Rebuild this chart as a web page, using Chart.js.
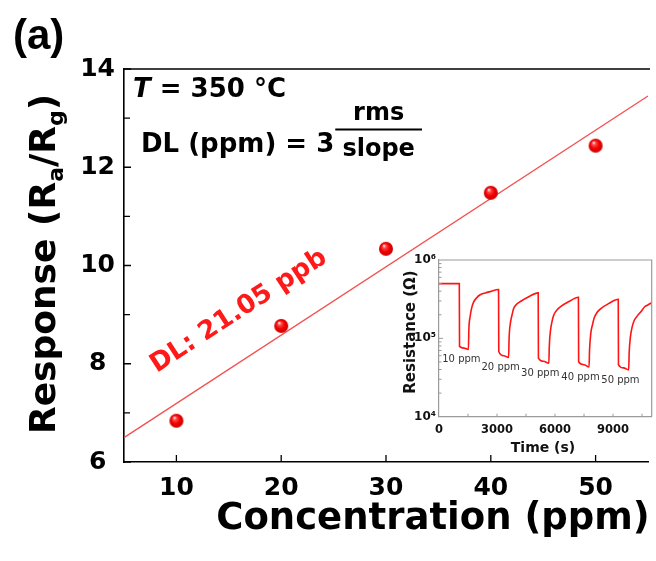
<!DOCTYPE html>
<html>
<head>
<meta charset="utf-8">
<script src="https://cdn.jsdelivr.net/npm/chart.js@4.4.1/dist/chart.umd.min.js"></script>
<style>
  html, body { margin: 0; padding: 0; background: #fff; }
  #wrap { position: relative; width: 656px; height: 561px; overflow: hidden; }
  #main { position: absolute; left: 0; top: 0; }
  #inset { position: absolute; left: 395px; top: 248px; }
</style>
</head>
<body>
<div id="wrap">
  <canvas id="main" width="656" height="561"></canvas>
  <canvas id="inset" width="261" height="215"></canvas>
</div>
<script>
// ---- Sensor response (Ra/Rg) versus gas concentration at 350 °C ----
const concentration = [10, 20, 30, 40, 50];            // ppm
const response      = [6.84, 8.77, 10.34, 11.48, 12.44]; // Ra/Rg
const xTickValues   = [10, 20, 30, 40, 50];
const yTickValues   = [6, 8, 10, 12, 14];
const yMinorValues  = [7, 9, 11, 13];
const xRange = [5, 55];
const yRange = [6, 14];
const detectionLimitLabel = 'DL: 21.05 ppb';

// ---- Inset: resistance transient during successive gas pulses ----
const time = [
  0, 1050, 1062, 1300, 1520, 1545, 1610, 1700, 1790, 1950, 2130, 2400, 2650, 3080,
  3092, 3350, 3600, 3625, 3690, 3780, 3860, 4000, 4210, 4640, 5130,
  5142, 5400, 5680, 5705, 5770, 5860, 5940, 6100, 6290, 6720, 7210,
  7222, 7500, 7760, 7785, 7850, 7940, 8020, 8180, 8370, 8800, 9270,
  9282, 9550, 9810, 9835, 9900, 9990, 10100, 10270, 10450, 10650, 10800, 11000
]; // s
const resistance = [
  5.0e5, 5.0e5, 7.9e4, 7.5e4, 7.2e4, 1.3e5, 1.9e5, 2.5e5, 2.9e5, 3.3e5, 3.6e5, 3.8e5, 3.95e5, 4.2e5,
  6.8e4, 6.0e4, 5.7e4, 1.0e5, 1.55e5, 2.0e5, 2.4e5, 2.7e5, 2.95e5, 3.4e5, 3.8e5,
  5.6e4, 5.1e4, 4.8e4, 8.0e4, 1.28e5, 1.7e5, 2.0e5, 2.3e5, 2.54e5, 2.95e5, 3.35e5,
  5.0e4, 4.6e4, 4.3e4, 7.0e4, 1.16e5, 1.5e5, 1.8e5, 2.15e5, 2.4e5, 2.8e5, 3.15e5,
  4.6e4, 4.2e4, 3.95e4, 6.5e4, 1.05e5, 1.4e5, 1.7e5, 1.95e5, 2.2e5, 2.55e5, 2.67e5, 2.85e5
]; // ohm
const pulseOn     = [1056, 3085, 5135, 7215, 9280];
const pulseOff    = [1524, 3600, 5685, 7765, 9810];
const pulseLabels = ['10 ppm', '20 ppm', '30 ppm', '40 ppm', '50 ppm'];
const timeTicks   = [0, 3000, 6000, 9000];
const resTicks    = [1e4, 1e5, 1e6];
const timeRange   = [0, 11000];

const FONT = "'DejaVu Sans', sans-serif";

// least-squares line through the response points
function linearFit(xs, ys) {
  const n = xs.length;
  const mx = xs.reduce((a, b) => a + b, 0) / n;
  const my = ys.reduce((a, b) => a + b, 0) / n;
  let sxy = 0, sxx = 0;
  for (let i = 0; i < n; i++) { sxy += (xs[i] - mx) * (ys[i] - my); sxx += (xs[i] - mx) ** 2; }
  const slope = sxy / sxx;
  return { slope, intercept: my - slope * mx };
}
const fit = linearFit(concentration, response);
const fitAt = x => fit.intercept + fit.slope * x;

// glossy red ball used as the marker
function makeSphere(r) {
  const d = 2 * r + 2;
  const c = document.createElement('canvas');
  c.width = c.height = d;
  const g = c.getContext('2d');
  const cx = d / 2;
  const grad = g.createRadialGradient(cx - r * 0.3, cx - r * 0.45, r * 0.05, cx, cx, r);
  grad.addColorStop(0, '#fff0f0');
  grad.addColorStop(0.22, '#ff4a4a');
  grad.addColorStop(0.6, '#f40000');
  grad.addColorStop(1, '#c80000');
  g.fillStyle = grad;
  g.beginPath(); g.arc(cx, cx, r, 0, Math.PI * 2); g.fill();
  return c;
}

// draw a run of text pieces with individual sizes / offsets, centred on x
function drawRuns(ctx, runs, x, y) {
  let total = 0;
  runs.forEach(r => { ctx.font = r.font; r.w = ctx.measureText(r.text).width; total += r.w; });
  let cx = x - total / 2;
  ctx.textAlign = 'left';
  runs.forEach(r => { ctx.font = r.font; ctx.fillText(r.text, cx, y + (r.dy || 0)); cx += r.w; });
}

const mainDecor = {
  id: 'mainDecor',
  afterDraw(chart) {
    const { ctx, chartArea: ca, scales: { x, y } } = chart;
    ctx.save();
    // frame top
    ctx.strokeStyle = '#000';
    ctx.lineWidth = 1.6;
    ctx.beginPath(); ctx.moveTo(ca.left, ca.top); ctx.lineTo(ca.right + 2, ca.top); ctx.stroke();
    // inward ticks
    ctx.lineWidth = 1.3;
    ctx.beginPath();
    yTickValues.forEach(v => { const p = y.getPixelForValue(v); ctx.moveTo(ca.left, p); ctx.lineTo(ca.left + 7, p); });
    yMinorValues.forEach(v => { const p = y.getPixelForValue(v); ctx.moveTo(ca.left, p); ctx.lineTo(ca.left + 6, p); });
    xTickValues.forEach(v => { const p = x.getPixelForValue(v); ctx.moveTo(p, ca.bottom); ctx.lineTo(p, ca.bottom - 7); });
    ctx.stroke();

    ctx.fillStyle = '#000';
    ctx.textBaseline = 'alphabetic';
    // panel letter
    ctx.font = "bold 42px 'Liberation Sans', Arial, sans-serif";
    ctx.textAlign = 'left';
    ctx.fillText('(a)', 13, 48.5);

    // axis titles
    ctx.textAlign = 'center';
    ctx.font = `bold 37px ${FONT}`;
    ctx.fillText('Concentration (ppm)', 433, 529);

    ctx.save();
    ctx.translate(55, 264);
    ctx.rotate(-Math.PI / 2);
    const big = `bold 36px ${FONT}`, small = `bold 22px ${FONT}`;
    drawRuns(ctx, [
      { text: 'Response (R', font: big },
      { text: 'a', font: small, dy: 8 },
      { text: '/R', font: big },
      { text: 'g', font: small, dy: 8 },
      { text: ')', font: big }
    ], 0, 0);
    ctx.restore();

    // temperature and detection-limit formula
    ctx.textAlign = 'left';
    ctx.font = `italic bold 26px ${FONT}`;
    ctx.fillText('T', 133, 97);
    const tw = ctx.measureText('T').width;
    ctx.font = `bold 26px ${FONT}`;
    ctx.fillText(' = 350 °C', 133 + tw, 97);

    ctx.fillText('DL (ppm) = 3', 141, 152);
    const dlw = ctx.measureText('DL (ppm) = 3').width;
    const barL = 141 + dlw + 1, barR = 422;
    ctx.fillRect(barL, 128.5, barR - barL, 2);
    ctx.textAlign = 'center';
    ctx.font = `bold 24px ${FONT}`;
    ctx.fillText('rms', (barL + barR) / 2, 120);
    ctx.fillText('slope', (barL + barR) / 2, 156);

    // detection-limit label laid along the fitted line
    const ax = 18.2;
    const p0 = { x: x.getPixelForValue(ax), y: y.getPixelForValue(fitAt(ax)) };
    const p1 = { x: x.getPixelForValue(ax + 10), y: y.getPixelForValue(fitAt(ax + 10)) };
    const ang = Math.atan2(p1.y - p0.y, p1.x - p0.x);
    ctx.save();
    ctx.translate(p0.x, p0.y);
    ctx.rotate(ang);
    ctx.fillStyle = '#ff1a1a';
    ctx.font = `bold 26px ${FONT}`;
    ctx.textAlign = 'center';
    ctx.textBaseline = 'middle';
    ctx.fillText(detectionLimitLabel, 0, -43);
    ctx.restore();
    ctx.restore();
  }
};

const sphere = makeSphere(7);

new Chart(document.getElementById('main'), {
  type: 'scatter',
  data: {
    datasets: [
      {
        label: 'linear fit',
        data: xRange.map(v => ({ x: v, y: fitAt(v) })),
        showLine: true,
        borderColor: '#f25252',
        borderWidth: 1.3,
        pointRadius: 0,
        order: 2
      },
      {
        label: 'response',
        data: concentration.map((c, i) => ({ x: c, y: response[i] })),
        pointStyle: sphere,
        pointRadius: 7,
        order: 1
      }
    ]
  },
  options: {
    responsive: false,
    animation: false,
    events: [],
    layout: { padding: { top: 69, right: 0, left: 0, bottom: 0 } },
    plugins: { legend: { display: false }, tooltip: { enabled: false } },
    scales: {
      x: {
        type: 'linear',
        min: xRange[0], max: xRange[1],
        afterBuildTicks: s => { s.ticks = xTickValues.map(v => ({ value: v })); },
        afterFit: s => { s.height = 99; },
        grid: { drawOnChartArea: false, drawTicks: false },
        border: { display: true, color: '#000', width: 1.6 },
        ticks: { font: { family: FONT, weight: 'bold', size: 25 }, color: '#000', padding: 11, maxRotation: 0, autoSkip: false }
      },
      y: {
        type: 'linear',
        min: yRange[0], max: yRange[1],
        afterBuildTicks: s => { s.ticks = yTickValues.map(v => ({ value: v })); },
        afterFit: s => { s.width = 124; },
        grid: { drawOnChartArea: false, drawTicks: false },
        border: { display: true, color: '#000', width: 1.6 },
        ticks: { font: { family: FONT, weight: 'bold', size: 25 }, color: '#000', padding: 9, crossAlign: 'center', autoSkip: false }
      }
    }
  },
  plugins: [mainDecor]
});

// ---- inset ----
const SUP = { '4': '\u2074', '5': '\u2075', '6': '\u2076' };

const insetDecor = {
  id: 'insetDecor',
  afterDraw(chart) {
    const { ctx, chartArea: ca, scales: { x, y } } = chart;
    ctx.save();
    ctx.strokeStyle = '#9a9a9a';
    ctx.lineWidth = 1.2;
    ctx.beginPath();
    ctx.moveTo(ca.left, ca.top); ctx.lineTo(ca.right, ca.top); ctx.lineTo(ca.right, ca.bottom);
    ctx.stroke();
    // small inward ticks
    ctx.lineWidth = 1;
    ctx.beginPath();
    for (let t = timeRange[0] + 1500; t < timeRange[1]; t += 1500) {
      const p = x.getPixelForValue(t);
      ctx.moveTo(p, ca.bottom); ctx.lineTo(p, ca.bottom - 3);
    }
    for (let e = 4; e < 6; e++) {
      for (let m = 1; m <= 9; m++) {
        if (e === 4 && m === 1) continue;
        const p = y.getPixelForValue(m * Math.pow(10, e));
        ctx.moveTo(ca.left, p); ctx.lineTo(ca.left + (m === 1 ? 4 : 2.5), p);
      }
    }
    ctx.stroke();

    // axis titles
    ctx.fillStyle = '#111';
    ctx.textAlign = 'center';
    ctx.textBaseline = 'alphabetic';
    ctx.font = `bold 14px ${FONT}`;
    ctx.fillText('Time (s)', 148, 204);
    ctx.save();
    ctx.translate(20, 84);
    ctx.rotate(-Math.PI / 2);
    ctx.font = `bold 15px ${FONT}`;
    ctx.fillText('Resistance (\u03A9)', 0, 0);
    ctx.restore();

    // concentration of each pulse, under its dip
    ctx.font = `10px ${FONT}`;
    ctx.fillStyle = '#333';
    ctx.textBaseline = 'middle';
    pulseLabels.forEach((lab, i) => {
      let minR = Infinity;
      time.forEach((t, k) => { if (t >= pulseOn[i] && t <= pulseOff[i] + 30) minR = Math.min(minR, resistance[k]); });
      ctx.fillText(lab, x.getPixelForValue(pulseOn[i]) + 2, y.getPixelForValue(minR) + 10);
    });
    ctx.restore();
  }
};

new Chart(document.getElementById('inset'), {
  type: 'scatter',
  data: {
    datasets: [{
      label: 'resistance',
      data: time.map((t, i) => ({ x: t, y: resistance[i] })),
      showLine: true,
      borderColor: '#ff1414',
      borderWidth: 1.6,
      pointRadius: 0,
      cubicInterpolationMode: 'monotone'
    }]
  },
  options: {
    responsive: false,
    animation: false,
    events: [],
    layout: { padding: { top: 12, right: 4.3, left: 0, bottom: 0 } },
    plugins: { legend: { display: false }, tooltip: { enabled: false } },
    scales: {
      x: {
        type: 'linear',
        min: timeRange[0], max: timeRange[1],
        afterBuildTicks: s => { s.ticks = timeTicks.map(v => ({ value: v })); },
        afterFit: s => { s.height = 46.3; },
        grid: { drawOnChartArea: false, drawTicks: false },
        border: { display: true, color: '#9a9a9a', width: 1.2 },
        ticks: {
          font: { family: FONT, weight: 'bold', size: 11.5 }, color: '#111', padding: 6, maxRotation: 0, autoSkip: false,
          callback: v => String(v)
        }
      },
      y: {
        type: 'logarithmic',
        min: resTicks[0], max: resTicks[resTicks.length - 1],
        afterBuildTicks: s => { s.ticks = resTicks.map(v => ({ value: v })); },
        afterFit: s => { s.width = 44; },
        grid: { drawOnChartArea: false, drawTicks: false },
        border: { display: true, color: '#9a9a9a', width: 1.2 },
        ticks: {
          font: { family: FONT, weight: 'bold', size: 12 }, color: '#111', padding: 3, autoSkip: false,
          callback: v => '10' + SUP[String(Math.round(Math.log10(v)))]
        }
      }
    }
  },
  plugins: [insetDecor]
});
</script>
</body>
</html>
